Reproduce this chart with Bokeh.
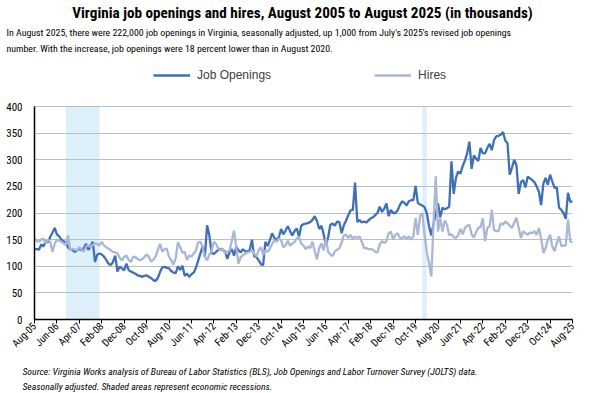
import pandas as pd
from bokeh.plotting import figure
from bokeh.models import (ColumnDataSource, Legend, LegendItem, FixedTicker, Range1d,
                          Label, Grid)
from bokeh.embed import file_html
from bokeh.resources import INLINE

# ---------------- data ----------------
months = list(pd.date_range("2005-08-01", periods=241, freq="MS").strftime("%b-%y"))

openings = [
    132, 132, 131, 141, 137, 147, 145, 155, 163, 172,
    160, 156, 150, 147, 145, 135, 132, 130, 127, 130,
    133, 130, 134, 142, 131, 137, 146, 108, 122, 124,
    122, 118, 112, 105, 102, 108, 120, 90, 99, 96,
    92, 105, 93, 90, 88, 86, 83, 82, 80, 82,
    83, 80, 78, 74, 72, 78, 89, 98, 99, 97,
    96, 91, 88, 87, 100, 93, 101, 82, 86, 80,
    85, 88, 97, 110, 124, 138, 118, 177, 158, 125,
    123, 127, 131, 133, 130, 128, 114, 126, 132, 120,
    136, 130, 126, 132, 128, 128, 130, 150, 119, 117,
    111, 104, 102, 146, 138, 149, 162, 153, 150, 154,
    170, 160, 167, 175, 166, 158, 166, 171, 156, 176,
    179, 180, 181, 183, 187, 194, 185, 170, 176, 160,
    139, 155, 178, 180, 176, 184, 183, 162, 177, 186,
    196, 205, 206, 257, 183, 187, 182, 184, 182, 186,
    190, 192, 196, 200, 212, 202, 208, 218, 194, 206,
    200, 200, 205, 215, 222, 219, 214, 222, 224, 224,
    251, 219, 216, 214, 211, 200, 175, 158, 180, 198,
    218, 192, 210, 207, 209, 212, 297, 236, 266, 278,
    274, 288, 298, 312, 334, 283, 308, 302, 298, 322,
    312, 312, 322, 330, 318, 337, 344, 345, 347, 352,
    336, 331, 272, 285, 300, 290, 236, 258, 262, 248,
    268, 265, 262, 258, 250, 240, 215, 255, 266, 253,
    272, 259, 247, 248, 210, 206, 200, 189, 238, 221,
    222,
]

hires = [
    152, 148, 146, 150, 152, 143, 150, 146, 127, 142,
    150, 148, 146, 143, 140, 158, 130, 133, 131, 130,
    136, 132, 127, 137, 139, 136, 140, 143, 142, 139,
    146, 139, 136, 133, 130, 127, 126, 124, 116, 111,
    118, 120, 112, 108, 118, 117, 114, 111, 113, 117,
    122, 118, 109, 112, 118, 130, 142, 128, 132, 133,
    118, 111, 103, 116, 145, 136, 125, 127, 112, 120,
    118, 124, 129, 145, 146, 137, 118, 111, 122, 129,
    146, 142, 133, 130, 133, 124, 127, 129, 148, 167,
    136, 105, 117, 121, 123, 126, 127, 130, 124, 118,
    130, 136, 121, 130, 127, 133, 142, 149, 146, 152,
    149, 136, 139, 148, 139, 142, 146, 152, 155, 142,
    139, 132, 137, 134, 146, 128, 113, 134, 143, 130,
    152, 127, 122, 119, 128, 131, 134, 144, 158, 159,
    153, 159, 151, 156, 153, 156, 146, 134, 134, 132,
    132, 131, 127, 126, 141, 147, 144, 147, 162, 165,
    150, 159, 162, 153, 153, 156, 152, 156, 150, 156,
    191, 159, 194, 200, 160, 125, 106, 81, 180, 269,
    165, 190, 165, 186, 178, 158, 160, 155, 153, 158,
    170, 160, 172, 176, 178, 160, 154, 164, 172, 174,
    190, 147, 172, 175, 206, 168, 166, 166, 181, 178,
    184, 181, 176, 172, 182, 191, 172, 153, 166, 162,
    159, 163, 162, 166, 159, 172, 153, 125, 134, 150,
    159, 137, 128, 144, 156, 138, 139, 139, 188, 146,
    145,
]

tick_labels = months[::10]
y_ticks = [0, 50, 100, 150, 200, 250, 300, 350, 400]
recessions = [("Oct-06", "Jan-08"), ("Jan-20", "Mar-20")]

title_text = "Virginia job openings and hires, August 2005 to August 2025 (in thousands)"
sub_lines = [
    "In August 2025, there were 222,000 job openings in Virginia, seasonally adjusted, "
    "up 1,000 from July's 2025's revised job openings",
    "number. With the increase, job openings were 18 percent lower than in August 2020.",
]
source_lines = [
    "Source: Virginia Works analysis of Bureau of Labor Statistics (BLS), "
    "Job Openings and Labor Turnover Survey (JOLTS) data.",
    "Seasonally adjusted.  Shaded areas represent economic recessions.",
]

# ---------------- layout (pixels inside the canvas) ----------------
W, H = 601, 393
PLOT_L, PLOT_R = 34, 572      # x pixel of first / last month
PLOT_T, PLOT_B = 106, 319     # y pixel (from top) of 400 / 0
FONT = "Roboto Condensed"
DARK = "#3F70B7"
LIGHT = "#A9B7D6"

n = len(months)
x_per_px = (n - 1) / (PLOT_R - PLOT_L)
y_per_px = (y_ticks[-1] - y_ticks[0]) / (PLOT_B - PLOT_T)
x_range = Range1d(-PLOT_L * x_per_px, (n - 1) + (W - PLOT_R) * x_per_px)
y_range = Range1d(-(H - PLOT_B) * y_per_px, y_ticks[-1] + PLOT_T * y_per_px)

p = figure(width=W, height=H, min_border=0, min_border_left=0, min_border_right=0,
           min_border_top=0, min_border_bottom=0,
           x_range=x_range, y_range=y_range,
           output_backend="svg", toolbar_location=None)
p.outline_line_color = None

# ---------------- marks ----------------
src = ColumnDataSource(dict(x=list(range(n)), openings=openings, hires=hires))
rec = ColumnDataSource(dict(
    left=[months.index(a) for a, b in recessions],
    right=[months.index(b) for a, b in recessions],
    bottom=[y_ticks[0]] * len(recessions),
    top=[y_ticks[-1]] * len(recessions),
))
p.quad(left="left", right="right", bottom="bottom", top="top", source=rec,
       fill_color="#DCEFFB", line_color=None, level="image")

r_open = p.line("x", "openings", source=src, line_color=DARK, line_width=2.3)
r_hire = p.line("x", "hires", source=src, line_color=LIGHT, line_width=2.3)

# ---------------- grid ----------------
p.xgrid.grid_line_color = None
if "cross_bounds" in Grid.properties():
    p.ygrid.ticker = FixedTicker(ticks=y_ticks)
    p.ygrid.grid_line_color = "#BEBEBE"
    p.ygrid.grid_line_width = 1.2
    p.ygrid.cross_bounds = (0, n - 1)
else:
    p.ygrid.grid_line_color = None
    p.segment(x0=[0] * len(y_ticks), x1=[n - 1] * len(y_ticks), y0=y_ticks, y1=y_ticks,
              line_color="#BEBEBE", line_width=1.2, level="underlay")

# ---------------- axes (drawn at the data origin) ----------------
p.yaxis.fixed_location = 0
p.yaxis.bounds = (y_ticks[0], y_ticks[-1])
p.yaxis.ticker = FixedTicker(ticks=y_ticks)
p.yaxis.axis_line_color = "black"
p.yaxis.axis_line_width = 1.5
p.yaxis.major_tick_line_color = None
p.yaxis.minor_tick_line_color = None
p.yaxis.major_label_text_font = FONT
p.yaxis.major_label_text_font_size = "11px"
p.yaxis.major_label_text_color = "black"
p.yaxis.major_label_standoff = 6

xt = list(range(0, n, 10))
p.xaxis.fixed_location = 0
p.xaxis.bounds = (0, n - 1)
p.xaxis.ticker = FixedTicker(ticks=xt)
p.xaxis.major_label_overrides = {t: lab for t, lab in zip(xt, tick_labels)}
p.xaxis.major_label_orientation = 0.785398
p.xaxis.axis_line_color = "black"
p.xaxis.axis_line_width = 1.5
p.xaxis.major_tick_line_color = "black"
p.xaxis.major_tick_in = 0
p.xaxis.major_tick_out = 4
p.xaxis.minor_tick_line_color = None
p.xaxis.major_label_text_font = FONT
p.xaxis.major_label_text_font_size = "10.5px"
p.xaxis.major_label_text_color = "black"
p.xaxis.major_label_standoff = 1

# ---------------- legend ----------------
legend = Legend(items=[LegendItem(label="Job Openings", renderers=[r_open]),
                       LegendItem(label="Hires", renderers=[r_hire])],
                orientation="horizontal", location=(153, H - 82),
                glyph_width=37, glyph_height=14, label_standoff=7, spacing=103,
                padding=0, margin=0, border_line_color=None,
                background_fill_alpha=0,
                label_text_font="Liberation Sans",
                label_text_font_size="12px", label_text_color="#404040")
p.add_layout(legend, "center")


# ---------------- texts ----------------
def add_text(x, y_from_top, text, size, style="normal", align="left"):
    p.add_layout(Label(x=x, y=H - y_from_top, x_units="screen", y_units="screen",
                       text=text, text_font=FONT, text_font_size=size,
                       text_font_style=style, text_align=align,
                       text_baseline="middle", text_color="black"))


add_text(302, 12, title_text, "15.2px", "bold", "center")
add_text(6, 32, sub_lines[0], "9.9px")
add_text(6, 48, sub_lines[1], "9.9px")
add_text(22, 371, source_lines[0], "9.7px", "italic")
add_text(22, 386, source_lines[1], "9.7px", "italic")

open("out.html", "w").write(file_html(p, INLINE))
